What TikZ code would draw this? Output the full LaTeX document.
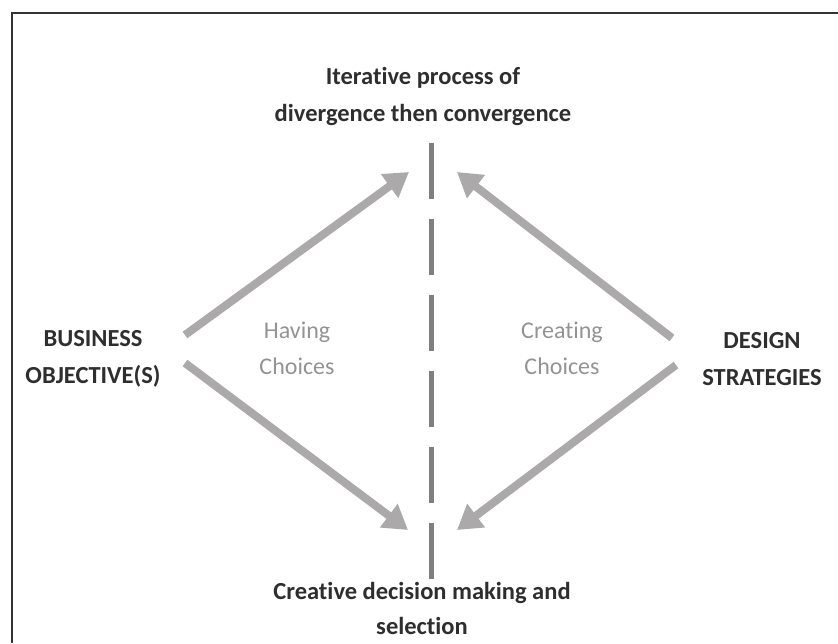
\documentclass[tikz,border=0pt]{standalone}
\usepackage{fontspec}
\setmainfont[Ligatures=NoCommon]{Carlito}
\usepackage{tikz}
\usetikzlibrary{positioning,arrows.meta}

\definecolor{arrowgray}{HTML}{ABA9A9}
\definecolor{dashgray}{HTML}{7F7F7F}
\definecolor{labelgray}{HTML}{939393}
\definecolor{textdark}{HTML}{2E2E2E}

\begin{document}
\begin{tikzpicture}[x=1pt, y=-1pt,
    every node/.style={align=center, inner sep=0pt, font=\fontsize{24.5}{37}\selectfont\bfseries, text=textdark},
    choice/.style={font=\fontsize{24}{36}\selectfont, text=labelgray},
    flow/.style={-{Triangle[length=24pt, width=28pt]}, line width=8pt, draw=arrowgray}]
        \useasboundingbox (0,0) rectangle (838,643);
        % frame (only top and left edges show)
        \draw[line width=1.5pt, black!80] (838,13) -- (12,13) -- (12,643);

        % the two ends and the two sides
        \node (iter) at (423,96) {Iterative process of\\divergence then convergence};
        \node[font=\fontsize{24.5}{35}\selectfont\bfseries] (decide) at (422,608) {Creative decision making and\\selection};
        \node (business) at (93,359) {BUSINESS\\OBJECTIVE(S)};
        \node (design) at (762,359) {DESIGN\\STRATEGIES};
        \node[choice] (having) at (297,348) {Having\\Choices};
        \node[choice] (creating) at (562,348) {Creating\\Choices};

        % dividing line
        \coordinate (divtop) at (431,143);
        \coordinate (divbot) at (431,588);
        \draw[dashgray, line width=5pt, dash pattern=on 56pt off 20pt] (divtop) -- (divbot);

        % arrow ends
        \coordinate (bo1) at (185,335);
        \coordinate (bo2) at (185,363);
        \coordinate (ds1) at (672,338);
        \coordinate (ds2) at (676,365);
        \coordinate (lt) at (409,172);
        \coordinate (lb) at (408,530);
        \coordinate (rt) at (457,172);
        \coordinate (rb) at (457,530);

        \draw[flow] (bo1) -- (lt);
        \draw[flow] (bo2) -- (lb);
        \draw[flow] (ds1) -- (rt);
        \draw[flow] (ds2) -- (rb);
      \end{tikzpicture}
\end{document}
